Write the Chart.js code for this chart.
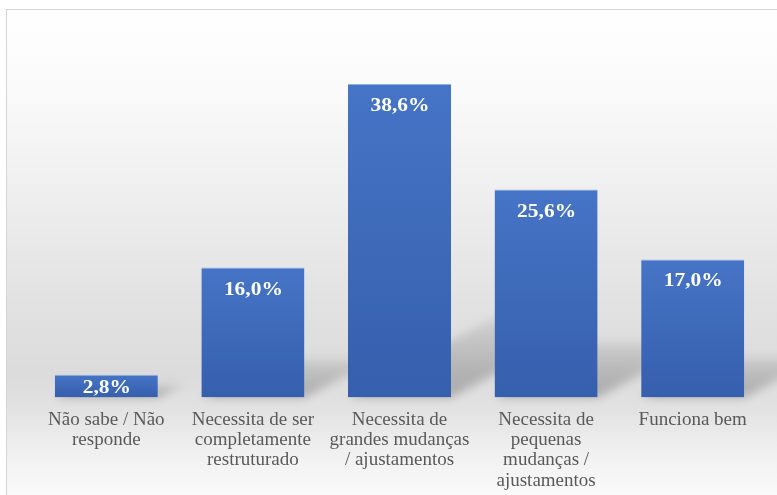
<!DOCTYPE html>
<html>
<head>
<meta charset="utf-8">
<title>Avaliação</title>
<script src="https://cdn.jsdelivr.net/npm/chart.js@4/dist/chart.umd.min.js"></script>
<style>
  html, body { margin: 0; padding: 0; background: #fff; }
  #wrap { width: 777px; height: 495px; }
</style>
</head>
<body>
<div id="wrap"><canvas id="avaliacaoChart" width="777" height="495"></canvas></div>
<script>
const categorias = [
  ['Não sabe / Não', 'responde'],
  ['Necessita de ser', 'completamente', 'restruturado'],
  ['Necessita de', 'grandes mudanças', '/ ajustamentos'],
  ['Necessita de', 'pequenas', 'mudanças /', 'ajustamentos'],
  ['Funciona bem']
];
const percentagens = [2.8, 16.0, 38.6, 25.6, 17.0];

const SERIF = 'Tinos, "Liberation Serif", serif';
Chart.defaults.font.family = SERIF;

// frame + soft grey backdrop
const fundo = {
  id: 'fundo',
  beforeDraw(chart) {
    const { ctx, width, height } = chart;
    ctx.save();
    ctx.fillStyle = '#ffffff';
    ctx.fillRect(0, 0, width, height);
    const g = ctx.createLinearGradient(0, 9, 0, height);
    g.addColorStop(0, '#ffffff');
    g.addColorStop(0.19, '#f9f9f9');
    g.addColorStop(0.39, '#eeeeee');
    g.addColorStop(0.6, '#e2e2e2');
    g.addColorStop(0.75, '#dbdbdb');
    g.addColorStop(0.83, '#e3e3e3');
    g.addColorStop(0.91, '#f0f0f0');
    g.addColorStop(1, '#fafafa');
    ctx.fillStyle = g;
    ctx.fillRect(7, 10, width, height);
    ctx.strokeStyle = '#d4d4d4';
    ctx.lineWidth = 1;
    ctx.strokeRect(6.5, 9.5, width + 10, height + 10);
    ctx.restore();
  }
};

// perspective shadow behind each bar (shape drawn off-canvas, only its blurred shadow lands)
const sombras = {
  id: 'sombras',
  beforeDatasetsDraw(chart) {
    const { ctx } = chart;
    const meta = chart.getDatasetMeta(0);
    const off = 3000;
    ctx.save();
    ctx.beginPath();
    ctx.rect(7, 10, chart.width, chart.height);
    ctx.clip();
    ctx.shadowColor = 'rgba(0,0,0,1)';
    ctx.shadowBlur = 10;
    ctx.shadowOffsetX = off;
    meta.data.forEach(bar => {
      const x0 = bar.x - bar.width / 2 - off;
      const x1 = bar.x + bar.width / 2 - off;
      const base = bar.base;
      const h = base - bar.y;
      const hs = 0.22 * h + 10;
      const dx = hs / 0.55;
      const g = ctx.createLinearGradient(0, base, 0, base - hs);
      g.addColorStop(0, 'rgba(0,0,0,0.24)');
      g.addColorStop(1, 'rgba(0,0,0,0.07)');
      ctx.fillStyle = g;
      ctx.beginPath();
      ctx.moveTo(x0, base);
      ctx.lineTo(x1, base);
      ctx.lineTo(x1 + dx, base - hs);
      ctx.lineTo(x0 + dx, base - hs);
      ctx.closePath();
      ctx.fill();
    });
    ctx.restore();
  }
};

// white value labels inside the top of each bar
const rotulos = {
  id: 'rotulos',
  afterDatasetsDraw(chart) {
    const { ctx } = chart;
    const meta = chart.getDatasetMeta(0);
    meta.data.forEach((bar, i) => {
      const txt = percentagens[i].toFixed(1).replace('.', ',') + '%';
      const h = bar.base - bar.y;
      const y = h > 40 ? bar.y + 27 : (bar.y + bar.base) / 2 + 6.5;
      ctx.save();
      ctx.translate(bar.x + 0.5, y);
      ctx.scale(1.13, 1);
      ctx.font = 'bold 19px ' + SERIF;
      ctx.fillStyle = '#ffffff';
      ctx.textAlign = 'center';
      ctx.textBaseline = 'alphabetic';
      ctx.fillText(txt, 0, 0);
      ctx.restore();
    });
  }
};

const ctx = document.getElementById('avaliacaoChart');

new Chart(ctx, {
  type: 'bar',
  data: {
    labels: categorias,
    datasets: [{
      data: percentagens,
      backgroundColor: c => {
        if (c.type !== 'data') return '#4472c4';
        const y = c.chart.scales.y;
        const top = y ? y.getPixelForValue(c.raw) : NaN;
        const base = y ? y.getPixelForValue(0) : NaN;
        if (!isFinite(top) || !isFinite(base)) return '#4472c4';
        const g = c.chart.ctx.createLinearGradient(0, top, 0, base);
        g.addColorStop(0, '#4674c6');
        g.addColorStop(1, '#365fad');
        return g;
      },
      borderColor: '#8fb0e2',
      borderWidth: { top: 1, left: 0, right: 0, bottom: 0 },
      borderSkipped: 'start',
      barPercentage: 0.703,
      categoryPercentage: 1
    }]
  },
  options: {
    responsive: false,
    animation: false,
    devicePixelRatio: 1,
    layout: { padding: { top: 40, left: 33, right: 11, bottom: 0 } },
    scales: {
      x: {
        grid: { display: false },
        border: { display: false },
        ticks: {
          color: '#595959',
          padding: 4,
          maxRotation: 0,
          autoSkip: false,
          font: { family: SERIF, size: 19, lineHeight: 1.07 }
        },
        afterFit: s => { s.height = 97.5; }
      },
      y: {
        display: false,
        min: 0,
        max: 44
      }
    },
    plugins: {
      legend: { display: false },
      tooltip: { enabled: false }
    }
  },
  plugins: [fundo, sombras, rotulos]
});
</script>
</body>
</html>
